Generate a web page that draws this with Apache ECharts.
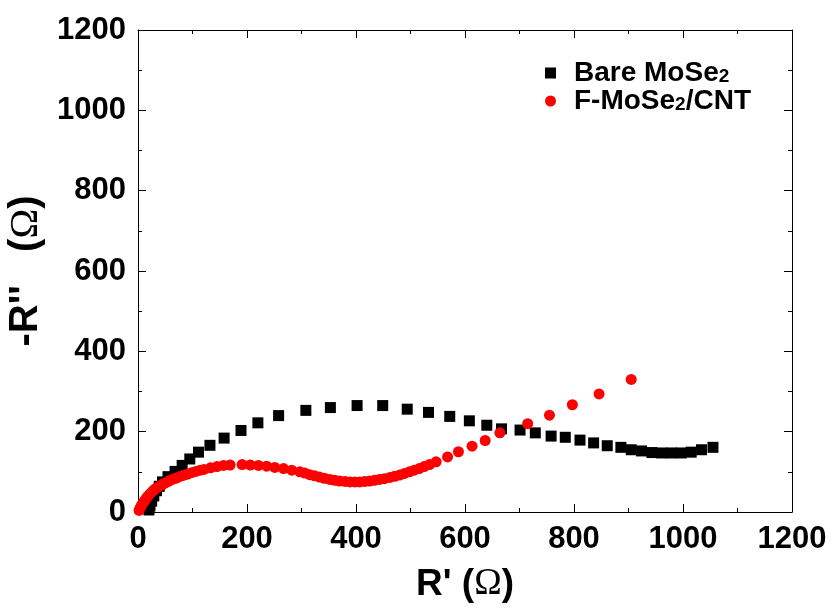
<!DOCTYPE html>
<html>
<head>
<meta charset="utf-8">
<style>
  html, body { margin: 0; padding: 0; background: #fff; }
  #chart { width: 833px; height: 611px; }
</style>
<script src="https://cdn.jsdelivr.net/npm/echarts@6/dist/echarts.min.js"></script>
</head>
<body>
<div id="chart"></div>
<script>
// Nyquist plot: real part R' vs negative imaginary part -R'' (ohm)
const seriesNames = ['Bare MoSe2', 'F-MoSe2/CNT'];

const bareMoSe2 = [
  [20, 5], [22, 15], [25, 27], [29, 40], [34, 53], [39, 64], [45, 75], [55, 88],
  [68, 101], [81, 116], [95, 132], [111, 149], [132, 166], [158, 184], [189, 203],
  [220, 222], [258, 240], [308, 253], [353, 260], [402, 265], [449, 265], [494, 256],
  [533, 248], [572, 238], [608, 227], [640, 216], [667, 207], [701, 204], [729, 197],
  [758, 189], [784, 186], [811, 179], [836, 172], [861, 165], [886, 161], [905, 155],
  [924, 152], [943, 148], [961, 147], [979, 147], [997, 147], [1015, 149], [1034, 155],
  [1055, 161]
];

const fMoSe2CNT = [
  [2, 4], [4, 10], [6, 16], [9, 22], [12, 28], [15, 34], [18, 39], [22, 45], [26, 51],
  [30, 56], [35, 61], [40, 65], [45, 69], [51, 73], [57, 77], [63, 81], [69, 84],
  [76, 88], [83, 91], [90, 94], [98, 98], [106, 101], [114, 104], [121, 106], [133, 110],
  [145, 113], [157, 116], [169, 117], [191, 118], [206, 117], [221, 116], [236, 114],
  [251, 111], [267, 108], [282, 104], [297, 100], [306, 97], [315, 93], [324, 90],
  [333, 87], [342, 84], [352, 81], [361, 79], [370, 77], [380, 76], [389, 75], [398, 75],
  [407, 75], [416, 76], [425, 77], [434, 79], [443, 81], [452, 83], [462, 86], [471, 89],
  [480, 92], [489, 96], [498, 100], [507, 104], [516, 108], [525, 113], [535, 118],
  [547, 125], [568, 137], [588, 150], [613, 164], [637, 178], [664, 197], [715, 220],
  [755, 241], [797, 267], [846, 294], [905, 330]
];

const axisMin = 0, axisMax = 1200, axisStep = 200;

const sans = '"Liberation Sans", Arial, sans-serif';
const serif = '"Liberation Serif", "Times New Roman", serif';
const ink = '#000';

function frameAxis(position, showLabels, extra) {
  return Object.assign({
    type: 'value',
    position: position,
    min: axisMin,
    max: axisMax,
    interval: axisStep,
    axisLine: { show: true, onZero: false, lineStyle: { color: ink, width: 1 } },
    axisTick: { show: true, inside: true, length: 8, lineStyle: { color: ink, width: 1 } },
    minorTick: { show: true, splitNumber: 2, length: 4, lineStyle: { color: ink, width: 1 } },
    splitLine: { show: false },
    axisLabel: {
      show: showLabels, color: ink, fontFamily: sans, fontWeight: 'bold', fontSize: 31, margin: 12,
      formatter: function (v) { return String(v); }
    }
  }, extra || {});
}

function nameRich(size) {
  return {
    b: { fontFamily: sans, fontWeight: 'bold', fontSize: size, color: ink },
    o: { fontFamily: serif, fontSize: size, color: ink }
  };
}

const chart = echarts.init(document.getElementById('chart'), null, { renderer: 'canvas' });

chart.setOption({
  animation: false,
  backgroundColor: '#fff',
  grid: { left: 138, right: 41, top: 30, bottom: 99, outerBoundsMode: 'none', containLabel: false },
  legend: {
    orient: 'vertical',
    left: 540,
    top: 54,
    itemGap: 0,
    itemWidth: 11,
    itemHeight: 11,
    data: [
      { name: seriesNames[0], icon: 'rect' },
      { name: seriesNames[1], icon: 'circle' }
    ],
    formatter: function (name) {
      return name.replace('MoSe2', 'MoSe{s|2}');
    },
    textStyle: {
      fontFamily: sans, fontWeight: 'bold', fontSize: 28, color: ink,
      lineHeight: 27,
      padding: [0, 0, 0, 13],
      rich: {
        s: { fontFamily: sans, fontWeight: 'bold', fontSize: 19, color: ink, lineHeight: 27, verticalAlign: 'bottom' }
      }
    }
  },
  xAxis: [
    frameAxis('bottom', true, {
      name: "{b|R' (}{o|Ω}{b|)}",
      nameLocation: 'middle',
      nameGap: 54,
      nameTextStyle: { rich: nameRich(37) }
    }),
    frameAxis('top', false)
  ],
  yAxis: [
    frameAxis('left', true, {
      name: "{b|-R''   (}{o|Ω}{b|)}",
      nameLocation: 'middle',
      nameGap: 82,
      nameTextStyle: { rich: nameRich(40) }
    }),
    frameAxis('right', false)
  ],
  series: [
    {
      name: seriesNames[0],
      type: 'scatter',
      xAxisIndex: 0,
      yAxisIndex: 0,
      symbol: 'rect',
      symbolSize: 11,
      clip: true,
      itemStyle: { color: '#000', opacity: 1 },
      data: bareMoSe2
    },
    {
      name: seriesNames[1],
      type: 'scatter',
      xAxisIndex: 0,
      yAxisIndex: 0,
      symbol: 'circle',
      symbolSize: 11,
      clip: true,
      itemStyle: { color: '#ff0000', opacity: 1 },
      data: fMoSe2CNT
    }
  ]
});
</script>
</body>
</html>
